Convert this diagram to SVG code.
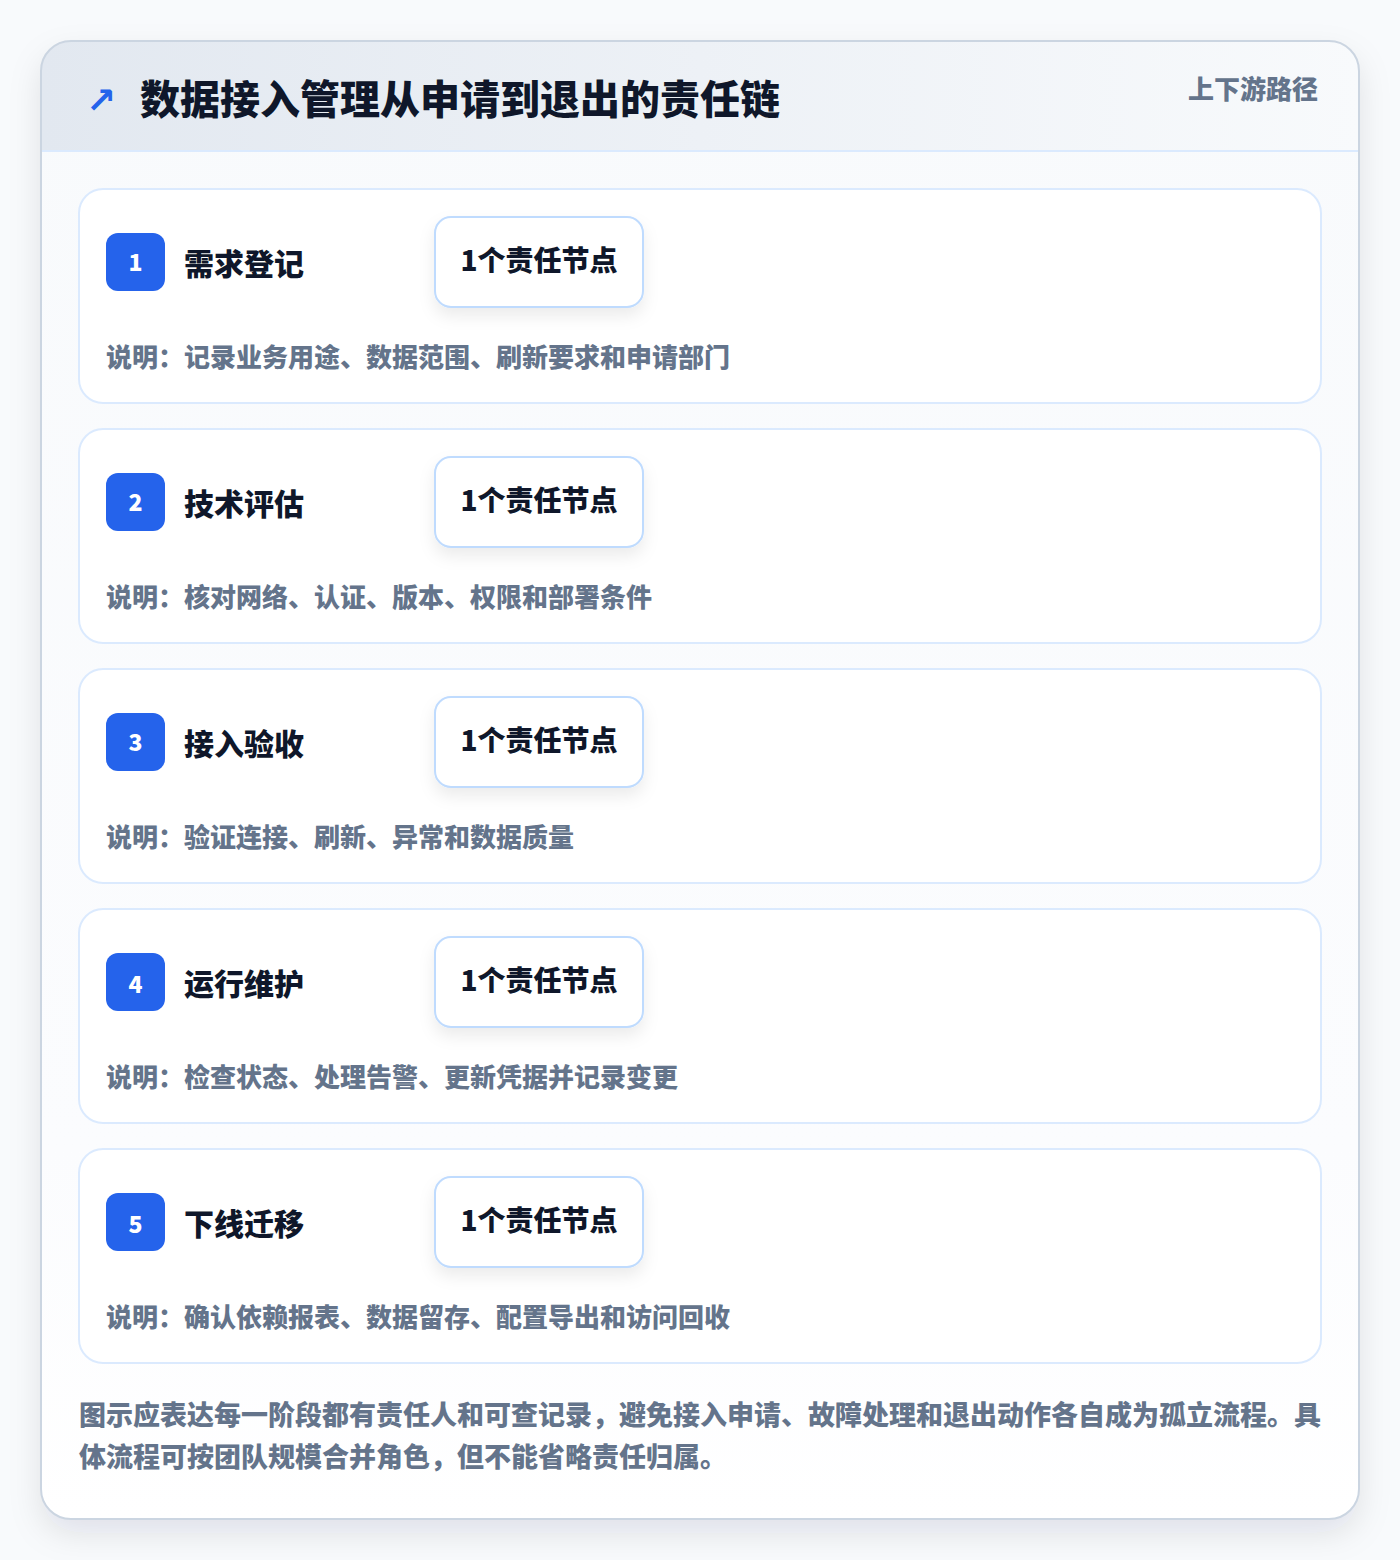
<svg xmlns="http://www.w3.org/2000/svg" width="1400" height="1560" viewBox="0 0 1400 1560">
<defs>
<linearGradient id="hdr" x1="0" y1="0" x2="1" y2="0">
<stop offset="0" stop-color="#e2e8f0"/>
<stop offset="1" stop-color="#f8fafc"/>
</linearGradient>
<linearGradient id="body" x1="0" y1="0" x2="0" y2="1">
<stop offset="0" stop-color="#f8fafc"/>
<stop offset="0.75" stop-color="#fbfcfe"/>
<stop offset="1" stop-color="#ffffff"/>
</linearGradient>
<filter id="outerShadow" x="-10%" y="-10%" width="120%" height="120%">
<feDropShadow dx="0" dy="14" stdDeviation="16" flood-color="#0f172a" flood-opacity="0.10"/>
</filter>
<filter id="pillShadow" x="-20%" y="-30%" width="140%" height="170%">
<feDropShadow dx="0" dy="8" stdDeviation="8" flood-color="#0f172a" flood-opacity="0.08"/>
</filter>
<clipPath id="outerClip"><rect x="41" y="41" width="1318" height="1478" rx="30"/></clipPath>
</defs>
<style>
text { font-family: "Noto Sans CJK SC", "Noto Sans", "Liberation Sans", sans-serif; font-weight: 800; }
.card { fill: #ffffff; stroke: #dbeafe; stroke-width: 2; }
.badge { fill: #2563eb; }
.badgeNum { fill: #ffffff; font-size: 23px; text-anchor: middle; }
.stage { fill: #0f172a; font-size: 30px; }
.pill { fill: #ffffff; stroke: #bfdbfe; stroke-width: 2; }
.pillText { fill: #0f172a; font-size: 28px; text-anchor: middle; }
.desc { fill: #64748b; font-size: 26px; }
.foot { fill: #64748b; font-size: 27px; }
</style>
<rect width="1400" height="1560" fill="#f8fafc"/>
<g id="frame">
<rect x="41" y="41" width="1318" height="1478" rx="30" fill="#ffffff" filter="url(#outerShadow)"/>
<g clip-path="url(#outerClip)">
<rect x="41" y="41" width="1318" height="1478" fill="url(#body)"/>
<rect x="41" y="41" width="1318" height="110" fill="url(#hdr)"/>
<line x1="41" y1="151" x2="1359" y2="151" stroke="#dbeafe" stroke-width="2"/>
</g>
<rect x="41" y="41" width="1318" height="1478" rx="30" fill="none" stroke="#cbd5e1" stroke-width="2"/>
</g>
<g id="header">
<text x="86" y="113" font-size="36" fill="#2563eb" style="font-family:'DejaVu Sans',sans-serif;font-weight:700">↗</text>
<text x="140" y="114" font-size="40" fill="#0f172a" style="font-weight:900">数据接入管理从申请到退出的责任链</text>
<text x="1318" y="99" font-size="26" fill="#64748b" text-anchor="end">上下游路径</text>
</g>
<g id="stage1">
<rect class="card" x="79" y="189" width="1242" height="214" rx="24"/>
<rect class="badge" x="106" y="233" width="59" height="58" rx="12"/>
<text class="badgeNum" x="135.5" y="271">1</text>
<text class="stage" x="184" y="275">需求登记</text>
<rect class="pill" x="435" y="217" width="208" height="90" rx="16" filter="url(#pillShadow)"/>
<text class="pillText" x="539" y="271">1个责任节点</text>
<text class="desc" x="106" y="367">说明：记录业务用途、数据范围、刷新要求和申请部门</text>
</g>
<g id="stage2">
<rect class="card" x="79" y="429" width="1242" height="214" rx="24"/>
<rect class="badge" x="106" y="473" width="59" height="58" rx="12"/>
<text class="badgeNum" x="135.5" y="511">2</text>
<text class="stage" x="184" y="515">技术评估</text>
<rect class="pill" x="435" y="457" width="208" height="90" rx="16" filter="url(#pillShadow)"/>
<text class="pillText" x="539" y="511">1个责任节点</text>
<text class="desc" x="106" y="607">说明：核对网络、认证、版本、权限和部署条件</text>
</g>
<g id="stage3">
<rect class="card" x="79" y="669" width="1242" height="214" rx="24"/>
<rect class="badge" x="106" y="713" width="59" height="58" rx="12"/>
<text class="badgeNum" x="135.5" y="751">3</text>
<text class="stage" x="184" y="755">接入验收</text>
<rect class="pill" x="435" y="697" width="208" height="90" rx="16" filter="url(#pillShadow)"/>
<text class="pillText" x="539" y="751">1个责任节点</text>
<text class="desc" x="106" y="847">说明：验证连接、刷新、异常和数据质量</text>
</g>
<g id="stage4">
<rect class="card" x="79" y="909" width="1242" height="214" rx="24"/>
<rect class="badge" x="106" y="953" width="59" height="58" rx="12"/>
<text class="badgeNum" x="135.5" y="993">4</text>
<text class="stage" x="184" y="995">运行维护</text>
<rect class="pill" x="435" y="937" width="208" height="90" rx="16" filter="url(#pillShadow)"/>
<text class="pillText" x="539" y="991">1个责任节点</text>
<text class="desc" x="106" y="1087">说明：检查状态、处理告警、更新凭据并记录变更</text>
</g>
<g id="stage5">
<rect class="card" x="79" y="1149" width="1242" height="214" rx="24"/>
<rect class="badge" x="106" y="1193" width="59" height="58" rx="12"/>
<text class="badgeNum" x="135.5" y="1233">5</text>
<text class="stage" x="184" y="1235">下线迁移</text>
<rect class="pill" x="435" y="1177" width="208" height="90" rx="16" filter="url(#pillShadow)"/>
<text class="pillText" x="539" y="1231">1个责任节点</text>
<text class="desc" x="106" y="1327">说明：确认依赖报表、数据留存、配置导出和访问回收</text>
</g>
<g id="connectors"></g>
<g id="footer">
<text class="foot" x="79" y="1425">图示应表达每一阶段都有责任人和可查记录，避免接入申请、故障处理和退出动作各自成为孤立流程。具</text>
<text class="foot" x="79" y="1467">体流程可按团队规模合并角色，但不能省略责任归属。</text>
</g>
</svg>
